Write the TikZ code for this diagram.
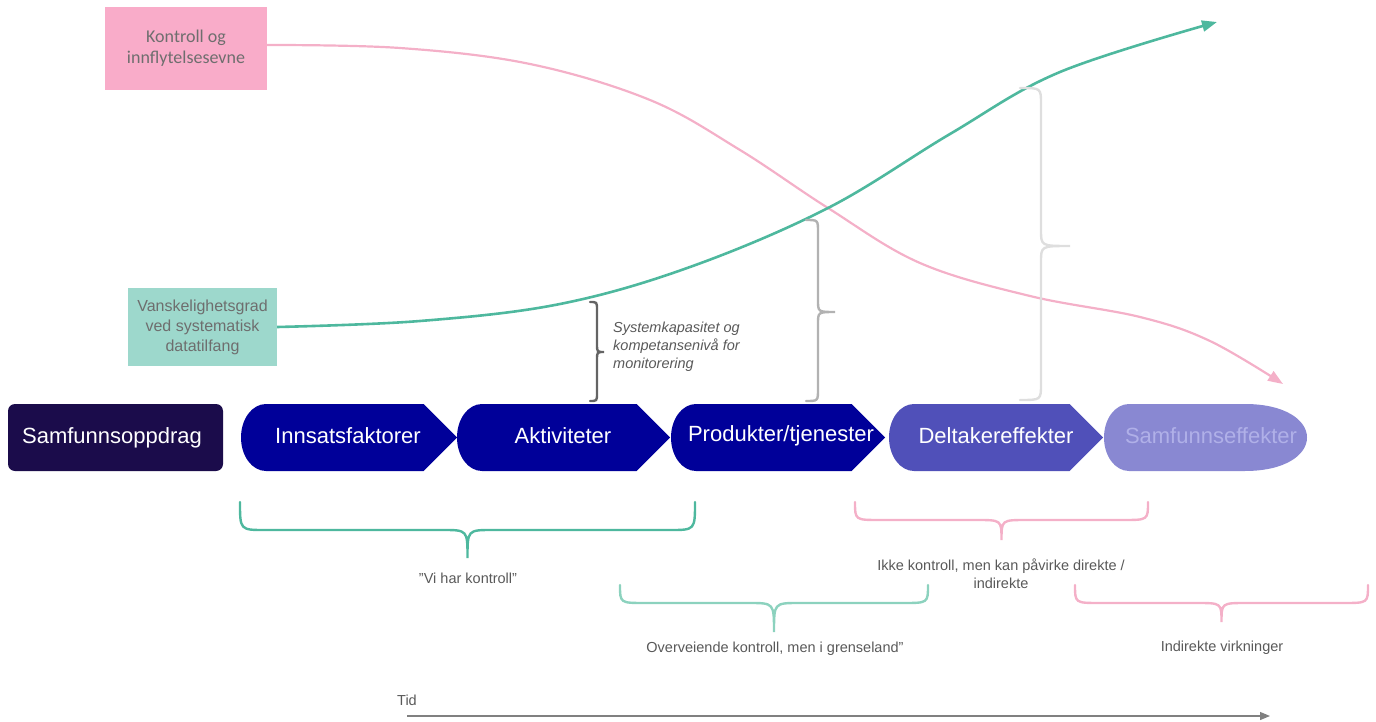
\documentclass[tikz,border=0pt]{standalone}
\usepackage{fontspec}
\setmainfont{Liberation Sans}[Ligatures=ResetAll]
\newfontfamily\calibfont{Carlito}
\usetikzlibrary{arrows.meta,calc}
\definecolor{pinkbox}{RGB}{249,172,201}
\definecolor{pinkline}{RGB}{244,176,200}
\definecolor{tealline}{RGB}{78,184,158}
\definecolor{tealbox}{RGB}{157,216,204}
\definecolor{teallight}{RGB}{140,210,190}
\definecolor{darkpurple}{RGB}{27,12,75}
\definecolor{dblue}{RGB}{0,0,153}
\definecolor{mblue}{RGB}{80,80,185}
\definecolor{lblue}{RGB}{137,136,210}
\definecolor{lbluetext}{RGB}{176,176,232}
\definecolor{labelgray}{RGB}{89,89,89}
\definecolor{boxtext}{RGB}{110,110,110}
\definecolor{gbrace1}{RGB}{100,100,100}
\definecolor{gbrace2}{RGB}{178,178,178}
\definecolor{gbrace3}{RGB}{222,222,222}
% horizontal brace pointing down: style, xL, xR, yEnd, yStraight, yTip
\newcommand{\myhbrace}[6]{%
  \pgfmathsetmacro{\bxm}{(#2+#3)/2}%
  \draw[#1] (#2,#4) .. controls (#2,#5) .. (#2+25,#5) -- (\bxm-25,#5)
    .. controls (\bxm,#5) .. (\bxm,#6)
    .. controls (\bxm,#5) .. (\bxm+25,#5) -- (#3-25,#5)
    .. controls (#3,#5) .. (#3,#4);}
% vertical brace pointing right: style, xBase, xStraight, xTip, yTop, yTip, yBottom, r
\newcommand{\myvbrace}[8]{%
  \draw[#1] (#2,#5) .. controls (#3,#5) .. (#3,#5+#8) -- (#3,#6-#8)
    .. controls (#3,#6) .. (#4,#6)
    .. controls (#3,#6) .. (#3,#6+#8) -- (#3,#7-#8)
    .. controls (#3,#7) .. (#2,#7);}
% chevron: fill, xLeft, xPoint
\newcommand{\mychev}[3]{%
  \fill[#1] (#2+25,404) .. controls (#2+11,404) and (#2,419) .. (#2,437.5)
    .. controls (#2,456) and (#2+11,471) .. (#2+25,471)
    -- (#3-33.5,471) -- (#3,437.5) -- (#3-33.5,404) -- cycle;}
\begin{document}
\begin{tikzpicture}[x=1pt,y=-1pt,
  chevtext/.style={text=white,font=\fontsize{22}{26}\selectfont,inner sep=0pt},
  lbl/.style={text=labelgray,font=\fontsize{14.5}{18}\selectfont,align=center,inner sep=0pt},
  tealcurve/.style={tealline,line width=2.6pt,-{Triangle[length=15pt,width=11pt]}},
  pinkcurve/.style={pinkline,line width=2.2pt,-{Triangle[length=15pt,width=11pt]}},
  bracestyle/.style={line width=2.4pt,line cap=round}]
\useasboundingbox (0,0) rectangle (1376,722);

% boxes
\node[fill=pinkbox,minimum width=162pt,minimum height=83pt,inner sep=0pt,
  text=boxtext,align=center,font=\calibfont\fontsize{18}{21}\selectfont]
  (kontroll) at (186,48.5) {Kontroll og\\innflytelsesevne};
\node[fill=tealbox,minimum width=149pt,minimum height=78pt,inner sep=0pt,
  text=boxtext,align=center,font=\fontsize{16}{20}\selectfont]
  (vansk) at (202.5,327) {Vanskelighetsgrad\\ved systematisk\\datatilfang};

% curves
\draw[pinkcurve] plot[smooth,tension=0.6] coordinates {([yshift=3.5pt]kontroll.east) (400,48) (530,64) (650,100) (740,150) (828,208) (920,263) (1030,296) (1140,317) (1210,341) (1283,384)};
\draw[tealcurve] plot[smooth,tension=0.6] coordinates {(vansk.east) (420,321) (560,304) (690,267) (828,208) (950,134) (1060,72) (1217,22)};

% vertical braces
\myvbrace{bracestyle,gbrace1}{590}{597}{604}{302}{352}{401}{8}
\myvbrace{bracestyle,gbrace2}{806}{818}{835}{220}{312}{401}{12}
\myvbrace{bracestyle,gbrace3}{1020}{1041}{1070}{88}{246}{400}{16}
\node[anchor=north west,text=labelgray,align=left,inner sep=0pt,
  font=\itshape\fontsize{14.5}{18}\selectfont] (syskap) at (613,322)
  {Systemkapasitet og\\kompetansenivå for\\monitorering};

% chevrons
\fill[darkpurple,rounded corners=7pt] (8,404) rectangle (223,471);
\node[chevtext] (oppdrag) at (112,437.5) {Samfunnsoppdrag};
\mychev{dblue}{241}{457}
\node[chevtext] (innsats) at (348,436) {Innsatsfaktorer};
\mychev{dblue}{457}{670}
\node[chevtext] (aktiv) at (563,436) {Aktiviteter};
\mychev{dblue}{671}{885}
\node[chevtext] (produkt) at (781,436) {Produkter/tjenester};
\mychev{mblue}{889}{1103}
\node[chevtext] (deltaker) at (996,436) {Deltakereffekter};
\fill[lblue] (1129,404) .. controls (1115,404) and (1104,419) .. (1104,437.5)
  .. controls (1104,456) and (1115,471) .. (1129,471) -- (1245,471)
  .. controls (1285,471) and (1307,455) .. (1307,437.5)
  .. controls (1307,420) and (1285,404) .. (1245,404) -- cycle;
\node[chevtext,text=lbluetext] (samfeff) at (1211,436) {Samfunnseffekter};

% bottom braces
\myhbrace{bracestyle,tealline}{240}{695}{502}{530}{558}
\node[lbl] (vihar) at (468,578) {"Vi har kontroll"};
\myhbrace{bracestyle,teallight}{620}{928}{585}{603}{632}
\node[lbl] (overv) at (775,649) {Overveiende kontroll, men i grenseland"};
\myhbrace{bracestyle,pinkline}{855}{1148}{502}{520}{540}
\node[lbl] (ikke) at (1001,574) {Ikke kontroll, men kan påvirke direkte /\\indirekte};
\myhbrace{bracestyle,pinkline}{1075}{1368}{585}{603}{622}
\node[lbl] (indir) at (1222,648) {Indirekte virkninger};

% time axis
\node[lbl,anchor=west] (tid) at (397,700) {Tid};
\coordinate (tidstart) at (407,716);
\coordinate (tidend) at (1270,716);
\draw[gray,line width=1.2pt,-{Triangle[length=10pt,width=8pt]}] (tidstart) -- (tidend);
\end{tikzpicture}
\end{document}
